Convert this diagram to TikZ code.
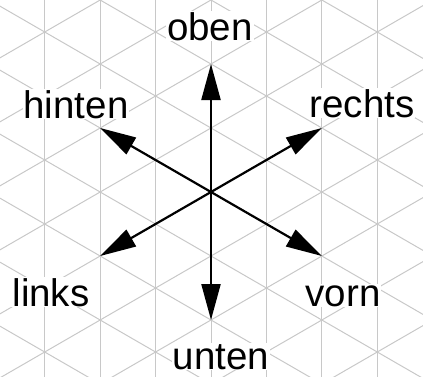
\documentclass[tikz,border=0pt]{standalone}
\usepackage{fontspec}
\setmainfont{Liberation Sans}
\usetikzlibrary{arrows.meta}
\definecolor{gridgray}{RGB}{200,200,200}
\tikzset{
  isogrid/.style={
    draw=gridgray, line width=1pt
  },
  axisarrow/.style={
    -{Triangle[length=36pt, width=19pt]}, line width=2.2pt, color=black
  },
  dirlabel/.style={
    fill=white, inner sep=1pt, anchor=base,
    font=\fontsize{38.5}{46}\selectfont
  },
}

\begin{document}
\begin{tikzpicture}[x=1pt, y=1pt]
  \useasboundingbox (-211,-184) rectangle (212,192);
  % isometric grid
  \begin{scope}
    \clip (-211,-184) rectangle (212,192);
    \foreach \k in {-4,...,4}
      \draw[isogrid] (55.43*\k,-200) -- (55.43*\k,200);
    \foreach \k in {-6,...,6} {
      \draw[isogrid] (-250,64*\k-144.34) -- (250,64*\k+144.34);
      \draw[isogrid] (-250,64*\k+144.34) -- (250,64*\k-144.34);
    }
  \end{scope}
  % directions
  \coordinate (o) at (0,0);
  \foreach \name/\ang in {oben/90, hinten/150, rechts/30, links/210, vorn/330, unten/270} {
    \coordinate (\name tip) at (\ang:128);
    \draw[axisarrow] (o) -- (\name tip);
  }
  \node[dirlabel] (oben)   at (-1,152)   {oben};
  \node[dirlabel] (hinten) at (-135,74)  {hinten};
  \node[dirlabel] (rechts) at (151,75)   {rechts};
  \node[dirlabel] (links)  at (-160,-114) {links};
  \node[dirlabel] (vorn)   at (132,-114) {vorn};
  \node[dirlabel] (unten)  at (10,-177)  {unten};
\end{tikzpicture}
\end{document}
